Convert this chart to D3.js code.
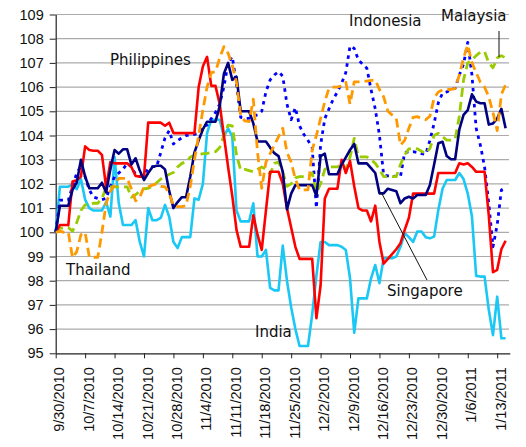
<!DOCTYPE html>
<html><head><meta charset="utf-8">
<script src="https://cdn.jsdelivr.net/npm/d3@7"></script>
<style>
html,body{margin:0;padding:0;background:#fff;}
svg{display:block;font-family:"DejaVu Sans",sans-serif;}
</style></head><body>
<svg id="chart" width="526" height="447"></svg>
<script>
const tickLabels = ["9/30/2010","10/7/2010","10/14/2010","10/21/2010","10/28/2010","11/4/2010","11/11/2010","11/18/2010","11/25/2010","12/2/2010","12/9/2010","12/16/2010","12/23/2010","12/30/2010","1/6/2011","1/13/2011"];
const yTicks = [95,96,97,98,99,100,101,102,103,104,105,106,107,108,109];

const india = [100.0,101.88,101.88,101.88,102.0,101.78,102.2,101.35,101.0,100.9,
100.9,100.9,101.25,100.65,103.1,101.2,100.3,100.3,100.3,100.5,
99.6,99.0,101.0,100.5,100.5,100.6,101.13,100.64,99.6,99.35,
99.8,99.8,99.8,101.4,101.35,102.0,104.1,104.65,104.65,104.65,
103.95,104.3,103.95,100.9,100.45,100.45,100.45,101.2,99.0,99.0,
99.27,97.7,97.6,97.6,99.45,98.0,96.9,96.0,95.3,95.3,
95.3,96.6,98.2,99.6,99.6,99.47,99.47,99.47,99.4,99.27,
98.1,95.85,97.27,97.27,97.27,98.1,98.65,97.9,98.93,98.93,
98.93,99.0,99.4,99.96,99.8,99.6,100.03,100.03,99.8,99.75,
99.82,100.92,101.8,102.16,102.16,102.16,102.45,102.2,101.6,100.65,
98.2,98.17,98.17,96.8,95.75,97.34,95.62,95.62];

const indonesia = [100.0,101.33,101.33,101.33,101.9,102.44,102.74,102.3,101.75,101.45,
101.4,101.35,101.4,101.9,102.3,102.45,102.6,102.85,102.7,102.4,
102.3,102.45,102.6,102.71,102.71,103.3,103.9,104.2,103.65,103.8,
103.9,104.0,104.02,104.05,104.1,104.4,104.43,104.7,104.95,105.3,
106.0,107.0,107.26,106.1,104.75,104.71,104.71,104.8,104.85,105.0,
105.8,106.3,106.5,106.64,106.45,105.3,104.65,105.15,104.4,104.05,
103.8,103.5,101.0,103.6,104.7,105.1,105.5,105.8,106.16,106.6,
107.7,107.6,107.12,106.95,106.78,105.9,105.1,104.0,102.37,102.33,
102.33,102.3,102.3,103.3,103.33,103.33,103.3,103.25,103.22,103.8,
104.5,105.35,105.75,105.8,105.9,105.95,106.5,106.95,107.85,106.5,
104.3,103.6,102.7,101.2,99.4,100.3,101.75,101.85];

const malaysia = [100.0,100.17,100.17,100.2,100.05,100.4,100.9,101.13,101.15,101.2,
101.2,101.4,101.85,101.88,101.88,101.88,101.88,101.88,101.45,101.55,
101.7,101.8,101.82,101.9,102.05,102.2,102.3,102.4,102.47,102.7,
102.85,102.92,103.1,103.2,103.2,103.25,103.26,103.3,103.33,103.5,
104.0,104.43,104.4,103.2,102.57,102.6,102.55,102.5,102.6,102.7,
102.6,102.4,102.85,102.9,102.5,101.9,102.0,102.25,102.3,102.3,
102.3,102.45,101.65,102.0,102.6,102.71,102.7,102.7,102.8,102.6,
103.1,103.88,103.12,103.12,103.12,103.0,102.85,102.6,102.3,102.3,
102.3,102.3,102.8,103.2,103.45,103.47,103.45,103.35,103.26,103.47,
104.0,104.09,103.95,103.81,103.81,103.85,104.8,106.3,107.0,107.12,
107.3,107.45,107.47,107.0,106.8,107.2,107.3,107.2];

const philippines = [100.0,100.3,100.3,100.3,102.1,102.15,102.3,103.55,103.4,103.37,
103.37,103.2,101.85,102.9,102.85,102.85,102.85,102.85,102.7,102.33,
102.3,102.3,104.53,104.53,104.53,104.53,104.4,104.53,104.1,104.1,
104.1,104.1,104.1,104.1,106.0,106.85,107.25,106.05,106.05,105.3,
104.0,102.7,101.5,100.1,99.4,99.4,99.4,100.7,99.9,99.27,
100.9,102.5,102.5,102.5,102.0,101.0,100.2,99.4,98.9,98.9,
98.9,98.9,96.45,97.8,101.4,101.8,101.8,101.8,103.0,102.45,
102.95,101.9,101.0,100.9,100.9,100.45,101.1,99.6,98.7,98.9,
99.1,99.3,99.55,100.1,100.6,101.6,101.6,101.6,101.6,101.6,
101.6,102.45,102.45,102.45,102.45,102.45,102.85,102.8,102.85,102.7,
102.5,102.5,102.5,100.7,98.35,98.45,99.3,99.65];

const singapore = [100.0,101.1,101.1,101.1,101.75,102.05,103.0,102.3,101.82,101.82,
101.82,102.05,101.65,102.6,103.4,103.25,103.43,103.43,102.8,103.06,
102.55,102.16,102.45,102.7,102.75,102.75,102.6,101.7,101.0,101.25,
101.45,101.45,102.3,103.3,103.8,104.25,104.57,104.57,104.57,105.2,
106.55,107.0,106.3,106.43,105.0,105.0,105.0,104.5,103.75,103.75,
103.75,103.5,103.27,103.15,102.5,100.95,101.6,101.95,101.95,101.95,
101.95,101.95,101.5,103.15,103.25,102.4,102.4,102.4,102.8,103.1,
103.4,103.65,102.85,102.85,102.85,102.65,102.45,101.61,101.61,101.8,
101.75,101.7,101.2,101.4,101.47,101.4,101.54,101.54,101.54,101.95,
102.8,103.68,103.74,103.15,103.02,103.02,104.25,104.85,105.05,105.7,
105.4,105.33,105.33,104.45,104.5,104.7,105.1,104.3];

const thailand = [100.0,100.05,100.0,100.0,98.95,99.2,99.9,100.0,98.97,98.97,
98.97,100.0,101.2,101.7,101.95,102.23,102.23,102.23,101.8,101.3,
101.45,101.88,101.88,101.95,102.0,101.9,101.88,101.6,101.1,101.06,
101.06,101.1,101.9,103.0,104.0,105.05,106.0,106.6,106.64,107.2,
107.67,107.4,106.9,106.2,104.8,104.6,104.57,105.5,103.3,101.82,
102.9,103.25,103.6,103.95,104.3,103.3,102.9,102.2,101.75,101.75,
101.75,103.4,104.0,104.71,105.4,105.95,106.0,106.0,106.05,106.2,
105.3,106.22,106.22,106.25,106.25,106.28,106.29,105.9,105.6,105.0,
104.85,104.71,103.6,103.8,104.3,104.75,104.78,104.7,104.65,104.8,
105.55,105.8,105.88,105.9,105.9,105.95,106.5,107.2,107.74,107.0,
106.6,106.2,106.0,105.6,104.95,104.2,105.7,106.1];

const seriesNames = ["India","Indonesia","Malaysia","Philippines","Singapore","Thailand"];
const seriesValues = [india, indonesia, malaysia, philippines, singapore, thailand];
const seriesColors = ["#19C8F5","#0000FF","#99CC00","#FF0000","#000080","#FF9900"];
const seriesDash = [null,"3.5,4.5","9,5",null,null,"9,5"];

const startDate = new Date(2010, 8, 30);
const dates = d3.timeDay.range(startDate, d3.timeDay.offset(startDate, india.length));
const parseD = d3.timeParse("%m/%d/%Y");
const tickDates = tickLabels.map(parseD);

const svg = d3.select("#chart");
const x = d3.scaleTime().domain([startDate, d3.timeDay.offset(startDate, 108)]).range([55.7, 509.8]);
const y = d3.scaleLinear().domain([95, 109]).range([353.3, 14.5]);

// gridlines
svg.append("g").selectAll("line").data(yTicks.filter(v => v > 95)).join("line")
  .attr("x1", x.range()[0]).attr("x2", 509)
  .attr("y1", d => y(d)).attr("y2", d => y(d))
  .attr("stroke", "#ABABAB").attr("stroke-width", 1.2);

// axes
const yAxis = svg.append("g").attr("transform", `translate(${x.range()[0]},0)`)
  .call(d3.axisLeft(y).tickValues(yTicks).tickSize(6).tickSizeOuter(0).tickPadding(6).tickFormat(d3.format("d")));
yAxis.selectAll("text").style("font-size", "14.5px").attr("fill", "#111");
yAxis.selectAll("line").attr("stroke", "#222");
yAxis.select(".domain").attr("stroke", "#222").attr("stroke-width", 1.2);

const xAxis = svg.append("g").attr("transform", `translate(0,${y(95)})`)
  .call(d3.axisBottom(x).tickValues(tickDates).tickSize(5).tickSizeOuter(0).tickFormat((d, i) => tickLabels[i]));
xAxis.selectAll("text").style("font-size", "14.5px").attr("fill", "#111")
  .attr("transform", "rotate(-90)").attr("x", -14).attr("y", 3).attr("dy", "0.35em")
  .style("text-anchor", "end");
xAxis.selectAll("line").attr("stroke", "#222");
xAxis.select(".domain").attr("stroke", "#222").attr("stroke-width", 1.2);

// series
const line = d3.line().x((d, i) => x(dates[i])).y(d => y(d)).curve(d3.curveLinear);
const g = svg.append("g");
seriesValues.forEach((vals, k) => {
  g.append("path").datum(vals)
    .attr("d", line)
    .attr("fill", "none")
    .attr("stroke", seriesColors[k])
    .attr("stroke-width", seriesDash[k] ? 2.8 : 2.6)
    .attr("stroke-linejoin", "round")
    .attr("stroke-dasharray", seriesDash[k])
    .attr("data-name", seriesNames[k]);
});

// annotations
const ann = svg.append("g").style("font-size", "15px").attr("fill", "#111");
ann.append("text").attr("x", 110).attr("y", 65).text("Philippines");
ann.append("text").attr("x", 349).attr("y", 26).text("Indonesia");
ann.append("text").attr("x", 441).attr("y", 21).text("Malaysia");
ann.append("text").attr("x", 66).attr("y", 275).text("Thailand");
ann.append("text").attr("x", 255).attr("y", 337).text("India");
ann.append("text").attr("x", 387).attr("y", 296).text("Singapore");
svg.append("line").attr("x1", 499).attr("y1", 31).attr("x2", 499).attr("y2", 57).attr("stroke", "#111").attr("stroke-width", 1);
svg.append("line").attr("x1", 381).attr("y1", 192).attr("x2", 427).attr("y2", 280).attr("stroke", "#111").attr("stroke-width", 1);
</script>
</body></html>
